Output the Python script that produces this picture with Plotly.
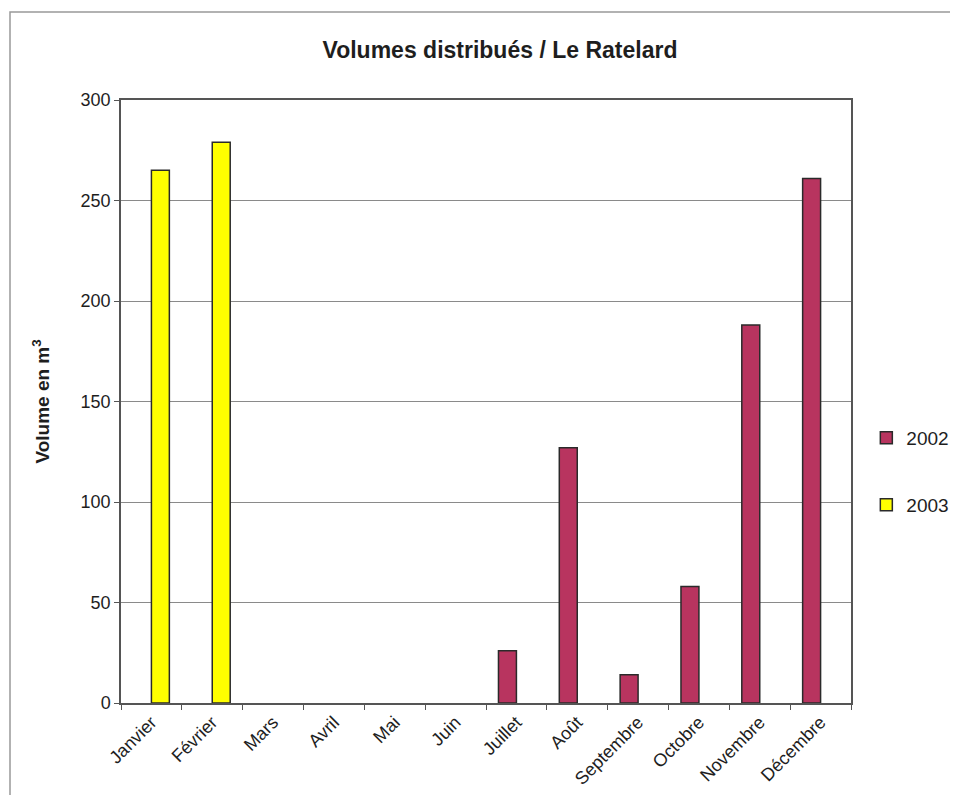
import plotly.graph_objects as go

months = ["Janvier", "Février", "Mars", "Avril", "Mai", "Juin", "Juillet",
          "Août", "Septembre", "Octobre", "Novembre", "Décembre"]
vol_2002 = [None, None, None, None, None, None, 26, 127, 14, 58, 188, 261]
vol_2003 = [265, 279, None, None, None, None, None, None, None, None, None, None]
y_ticks = [0, 50, 100, 150, 200, 250, 300]

FONT = "Liberation Sans, Arial, sans-serif"
TXT = "#1e1e1e"

fig = go.Figure()
fig.add_trace(go.Bar(x=months, y=vol_2002, name="2002", legend="legend",
                     marker=dict(color="#B8345F", line=dict(color="#2a2a2a", width=1.5))))
fig.add_trace(go.Bar(x=months, y=vol_2003, name="2003", legend="legend2",
                     marker=dict(color="#FFFF00", line=dict(color="#2a2a2a", width=1.5))))

leg_common = dict(xanchor="left", yanchor="middle",
                  font=dict(size=19, family=FONT, color=TXT),
                  bgcolor="rgba(0,0,0,0)", itemwidth=30, borderwidth=0)

fig.update_layout(
    width=950, height=787,
    margin=dict(l=113, r=107, t=92, b=92, autoexpand=False),
    paper_bgcolor="white", plot_bgcolor="white",
    barmode="group", bargap=0.41, bargroupgap=0,
    font=dict(family=FONT, color=TXT),
    title=dict(text="<b>Volumes distribués / Le Ratelard</b>", x=492 / 950, xanchor="center",
               y=1 - 42 / 787, yanchor="middle", font=dict(size=23, family=FONT, color=TXT)),
    legend=dict(x=1.021, y=(703 - 438) / 603, **leg_common),
    legend2=dict(x=1.021, y=(703 - 505) / 603, **leg_common),
    showlegend=True,
)
fig.update_xaxes(
    type="category", tickangle=-45, tickfont=dict(size=18, family=FONT, color=TXT),
    showline=True, linecolor="#555", linewidth=1.5, mirror=True,
    ticks="outside", ticklen=5, tickcolor="#555", tickson="boundaries",
    showgrid=False,
)
fig.update_yaxes(
    range=[0, 300], tickvals=y_ticks, tickfont=dict(size=18, family=FONT, color=TXT),
    showline=True, linecolor="#555", linewidth=1.5, mirror=True,
    ticks="outside", ticklen=5, tickcolor="#555",
    showgrid=True, gridcolor="#8a8a8a", gridwidth=1, zeroline=False,
    title=dict(text="<b>Volume en m<sup>3</sup></b>", font=dict(size=19, family=FONT, color=TXT),
               standoff=26),
)
fig.add_shape(type="rect", xref="paper", yref="paper",
              x0=(10 - 121) / 730, x1=1.3, y0=-0.3, y1=(703 - 12) / 603,
              line=dict(color="#999", width=1.5), fillcolor="rgba(0,0,0,0)", layer="below")

fig.write_html("out.html")
